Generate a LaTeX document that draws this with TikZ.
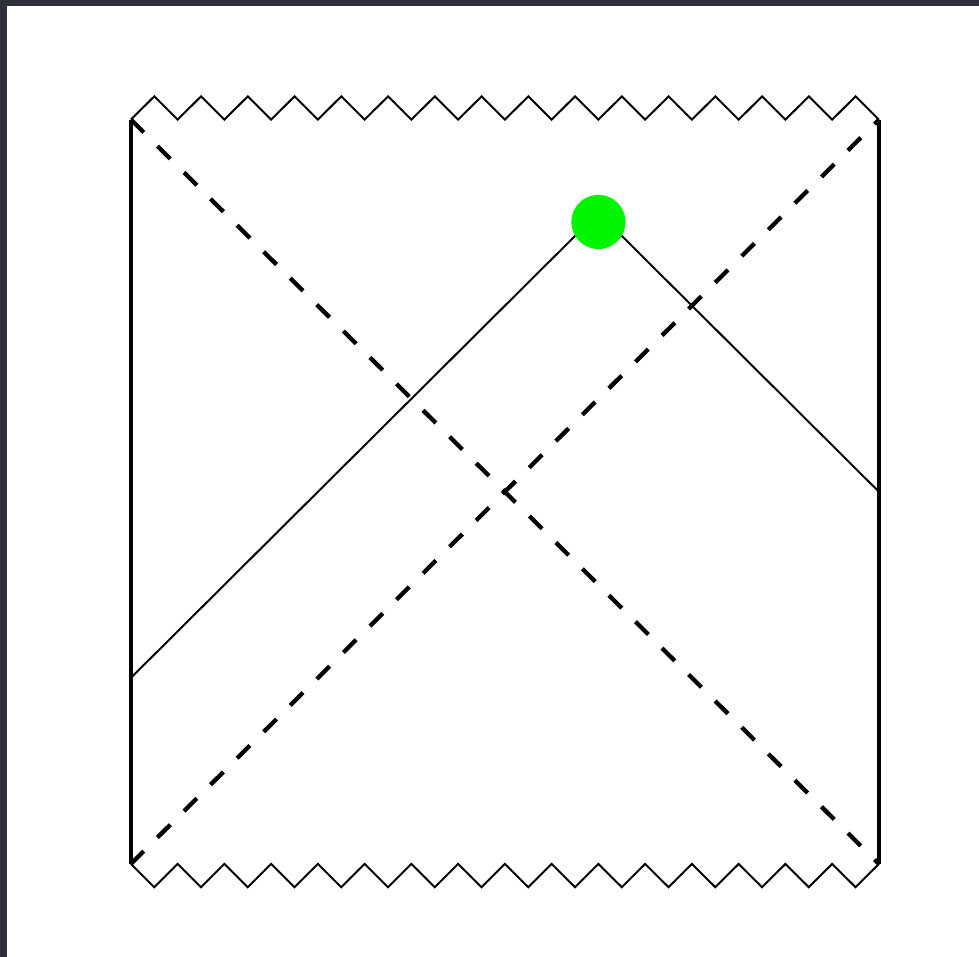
\documentclass[tikz,border=0pt]{standalone}
\usetikzlibrary{positioning}
\definecolor{greendot}{RGB}{0,245,0}
\definecolor{framegray}{RGB}{46,48,60}

\begin{document}
\begin{tikzpicture}[y=0.995cm,
    wall/.style={line width=1.35pt},
    horizon/.style={line width=1.3pt, dash pattern=on 5.5pt off 5.9pt},
    ray/.style={line width=0.6pt},
    singular/.style={line width=0.6pt, line join=miter}
  ]
  % Frame and page
  \fill[framegray] (-1.40,-1.0) rectangle (9.07,9.286);
  \fill[white] (-1.325,-1.0) rectangle (9.07,9.222);
  \useasboundingbox (-1.40,-1.0) rectangle (9.07,9.286);

  % Corners of the diagram
  \coordinate (sw) at (0,0);
  \coordinate (se) at (8,0);
  \coordinate (nw) at (0,8);
  \coordinate (ne) at (8,8);

  % Points where the light rays meet the walls
  \coordinate (hitL) at (0,2);
  \coordinate (hitR) at (8,4);
  \coordinate (apex) at (5,7);

  % Walls
  \draw[wall] (sw) -- (nw);
  \draw[wall] (se) -- (ne);

  % Singularities (zigzag)
  \draw[singular] (nw) \foreach \i in {0,...,15} {-- ++(0.25,0.25) -- ++(0.25,-0.25)};
  \draw[singular] (sw) \foreach \i in {0,...,15} {-- ++(0.25,-0.25) -- ++(0.25,0.25)};

  % Horizons
  \draw[horizon] (nw) -- (se);
  \draw[horizon] (sw) -- (ne);

  % Light rays
  \draw[ray] (hitL) -- (apex) -- (hitR);

  % Event
  \node[circle, fill=greendot, minimum size=0.58cm, inner sep=0pt] (event) at (5,6.9) {};
\end{tikzpicture}
\end{document}
